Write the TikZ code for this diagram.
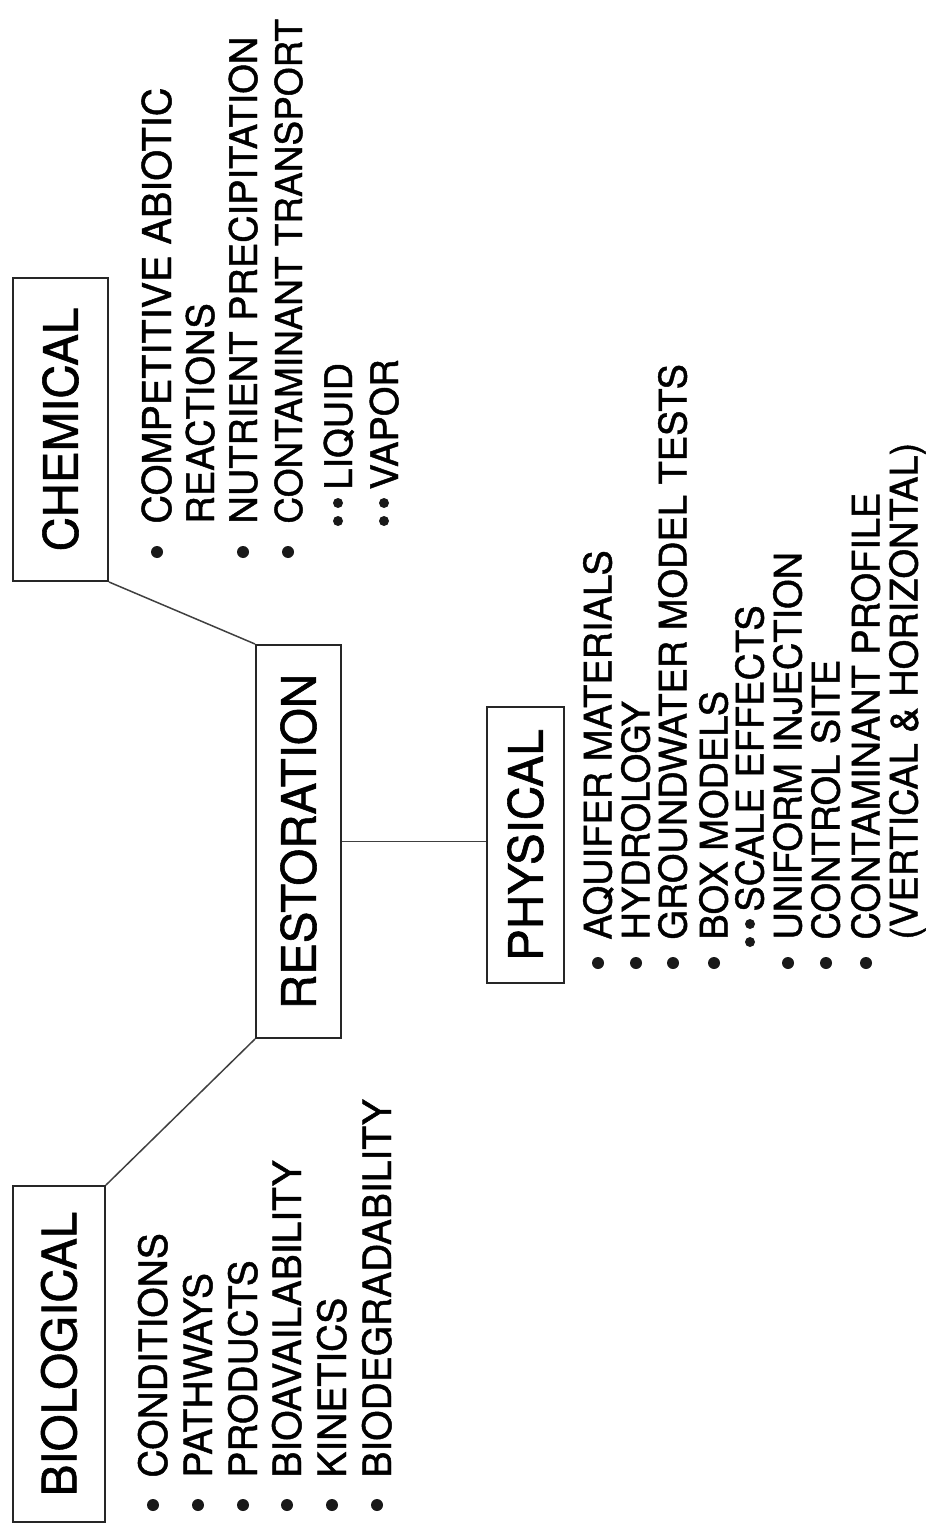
\documentclass[tikz,border=0pt]{standalone}
\usepackage{fontspec}
\setmainfont{TeX Gyre Heros}[RawFeature={embolden=1.2}]
\begin{document}
\begin{tikzpicture}[x=0.5pt,y=-0.5pt,
  hdr/.style={draw=black!85, line width=1pt, rotate=90, inner sep=0pt, font=\fontsize{23.75}{24}\selectfont},
  conn/.style={draw=black!75, line width=0.75pt},
  itm/.style={rotate=90, anchor=base west, inner sep=0pt, font=\fontsize{19.5}{20}\selectfont},
  citm/.style={itm, font=\fontsize{19}{20}\selectfont},
  pitm/.style={itm, font=\fontsize{19}{20}\selectfont},
  bul/.style={circle, fill=black!90, inner sep=0pt, minimum size=6pt},
  sbul/.style={circle, fill=black!90, inner sep=0pt, minimum size=5pt}]
\useasboundingbox (0,0) rectangle (927,1529);

% header boxes
\node[hdr, minimum width=151.5pt, minimum height=47.5pt] (chem) at (60.5,429.5) {CHEMICAL};
\node[hdr, minimum width=196.5pt, minimum height=42.5pt] (rest) at (298.5,841.5) {RESTORATION};
\node[hdr, minimum width=138pt, minimum height=38.5pt] (phys) at (525.5,845) {PHYSICAL};
\node[hdr, minimum width=168pt, minimum height=46pt] (bio) at (59,1354) {BIOLOGICAL};

% connectors
\draw[conn] (chem.south west) -- (rest.north east);
\draw[conn] (rest.north west) -- (bio.south east);
\draw[conn] (rest.south) -- (rest.south -| phys.north);

% chemical list
\node[citm, font=\fontsize{19.8}{20}\selectfont] (c1) at (171,524) {COMPETITIVE ABIOTIC};
\node[citm] (c2) at (214,524) {REACTIONS};
\node[citm] (c3) at (257,524) {NUTRIENT PRECIPITATION};
\node[citm, font=\fontsize{18.5}{20}\selectfont] (c4) at (302,524) {CONTAMINANT TRANSPORT};
\node[citm] (c5) at (352,490) {LIQUID};
\node[citm] (c6) at (398,490) {VAPOR};
\foreach \xx [count=\i] in {157,243,288} \node[bul] (cb\i) at (\xx,552) {};
\foreach \xx [count=\i] in {338,384} {\node[sbul] (csa\i) at (\xx,503) {}; \node[sbul] (csb\i) at (\xx,521) {};}

% physical list
\node[pitm] (p1) at (611.5,940) {AQUIFER MATERIALS};
\node[pitm] (p2) at (649.5,940) {HYDROLOGY};
\node[pitm] (p3) at (686.5,940) {GROUNDWATER MODEL TESTS};
\node[pitm] (p4) at (727.5,940) {BOX MODELS};
\node[pitm] (p5) at (763.5,912) {SCALE EFFECTS};
\node[pitm] (p6) at (801.5,940) {UNIFORM INJECTION};
\node[pitm] (p7) at (839.5,940) {CONTROL SITE};
\node[pitm] (p8) at (879.5,940) {CONTAMINANT PROFILE};
\node[pitm] (p9) at (917.5,940) {(VERTICAL \& HORIZONTAL)};
\foreach \xx [count=\i] in {598,636,673,714,788,826,866} \node[bul] (pb\i) at (\xx,963) {};
\node[sbul] (psa) at (750,924) {};
\node[sbul] (psb) at (750,942) {};

% biological list
\node[itm] (b1) at (167,1478) {CONDITIONS};
\node[itm] (b2) at (212,1478) {PATHWAYS};
\node[itm] (b3) at (257,1478) {PRODUCTS};
\node[itm] (b4) at (301,1478) {BIOAVAILABILITY};
\node[itm] (b5) at (346,1478) {KINETICS};
\node[itm] (b6) at (391,1478) {BIODEGRADABILITY};
\foreach \xx [count=\i] in {153,198,243,287,332,377} \node[bul] (bb\i) at (\xx,1505) {};
\end{tikzpicture}
\end{document}
